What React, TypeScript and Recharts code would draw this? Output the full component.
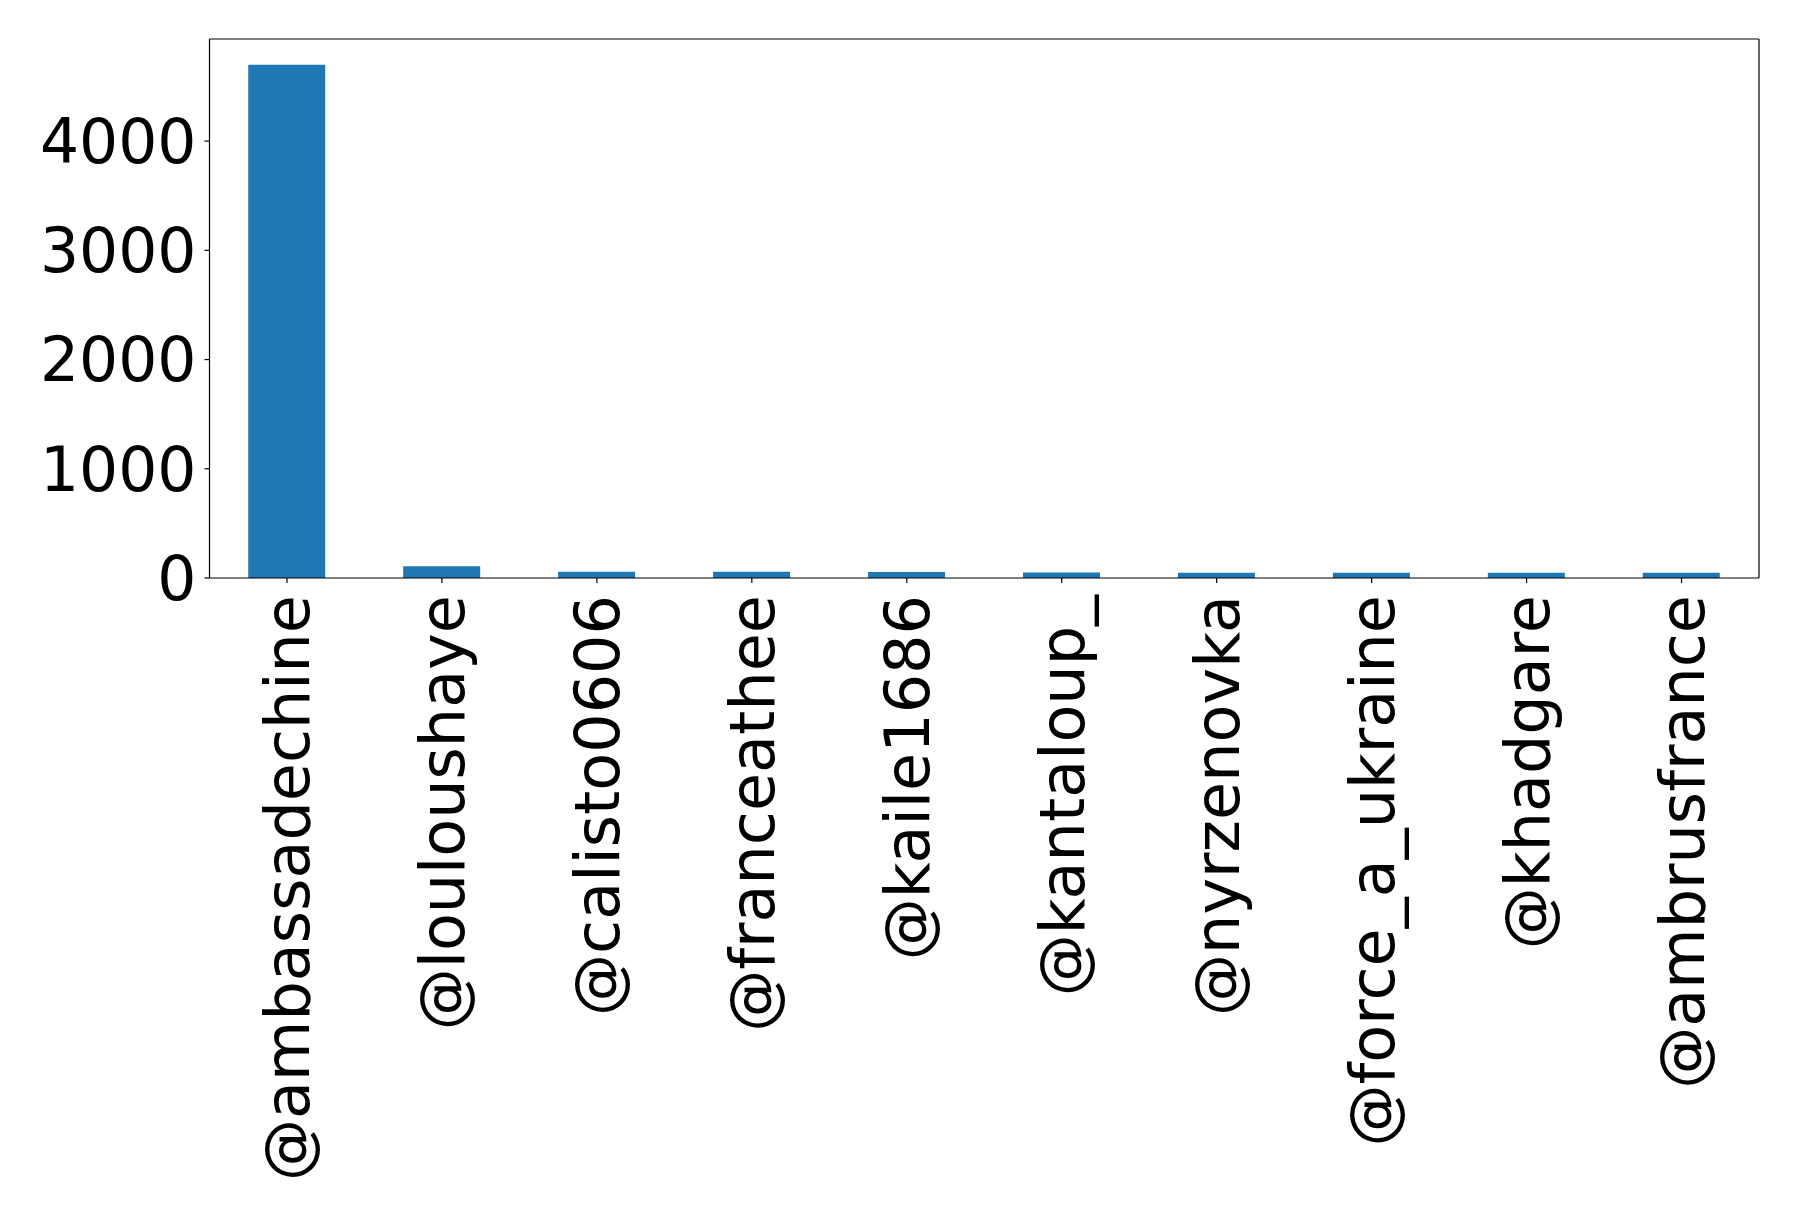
import { BarChart, Bar, XAxis, YAxis, CartesianGrid } from 'recharts'

const ACCOUNTS = [
  '@ambassadechine',
  '@louloushaye',
  '@calisto0606',
  '@franceathee',
  '@kaile1686',
  '@kantaloup_',
  '@nyrzenovka',
  '@force_a_ukraine',
  '@khadgare',
  '@ambrusfrance',
]

const COUNTS = [4700, 107, 58, 57, 56, 50, 49, 48, 48, 47]

const Y_TICKS = [0, 1000, 2000, 3000, 4000]

const FONT = '"DejaVu Sans", sans-serif'

const data = ACCOUNTS.map((name, i) => ({ name, count: COUNTS[i] }))

// chart box, in pixels
const W = 1798
const H = 1218
const TOP = 39
const RIGHT = 39

function RotatedTick({ x, y, payload }: any) {
  return (
    <text
      x={x}
      y={y}
      transform={`rotate(-90, ${x}, ${y})`}
      textAnchor="end"
      dy="0.36em"
      fontSize={62}
      fontFamily={FONT}
      fill="#000"
    >
      {payload.value}
    </text>
  )
}

export default function App() {
  return (
    <div style={{ position: 'absolute', left: 0, top: 0, width: W, height: H, background: '#fff' }}>
      <BarChart
        width={W}
        height={H}
        data={data}
        margin={{ top: TOP, right: RIGHT, bottom: 0, left: 0 }}
        barCategoryGap="25%"
      >
        {/* top and right spines */}
        <CartesianGrid
          horizontalPoints={[TOP]}
          verticalPoints={[W - RIGHT]}
          stroke="#000"
          strokeWidth={1.2}
          strokeDasharray=""
        />
        <XAxis
          dataKey="name"
          height={640}
          interval={0}
          tickSize={5}
          tickMargin={12}
          tick={<RotatedTick />}
          stroke="#000"
          strokeWidth={1.2}
        />
        <YAxis
          width={209.5}
          domain={[0, 4935]}
          ticks={Y_TICKS}
          tickSize={5}
          tickMargin={8}
          stroke="#000"
          strokeWidth={1.2}
          tick={{ fontSize: 61.5, fontFamily: FONT, fill: '#000' }}
        />
        <Bar dataKey="count" fill="#1f77b4" isAnimationActive={false} />
      </BarChart>
    </div>
  )
}
